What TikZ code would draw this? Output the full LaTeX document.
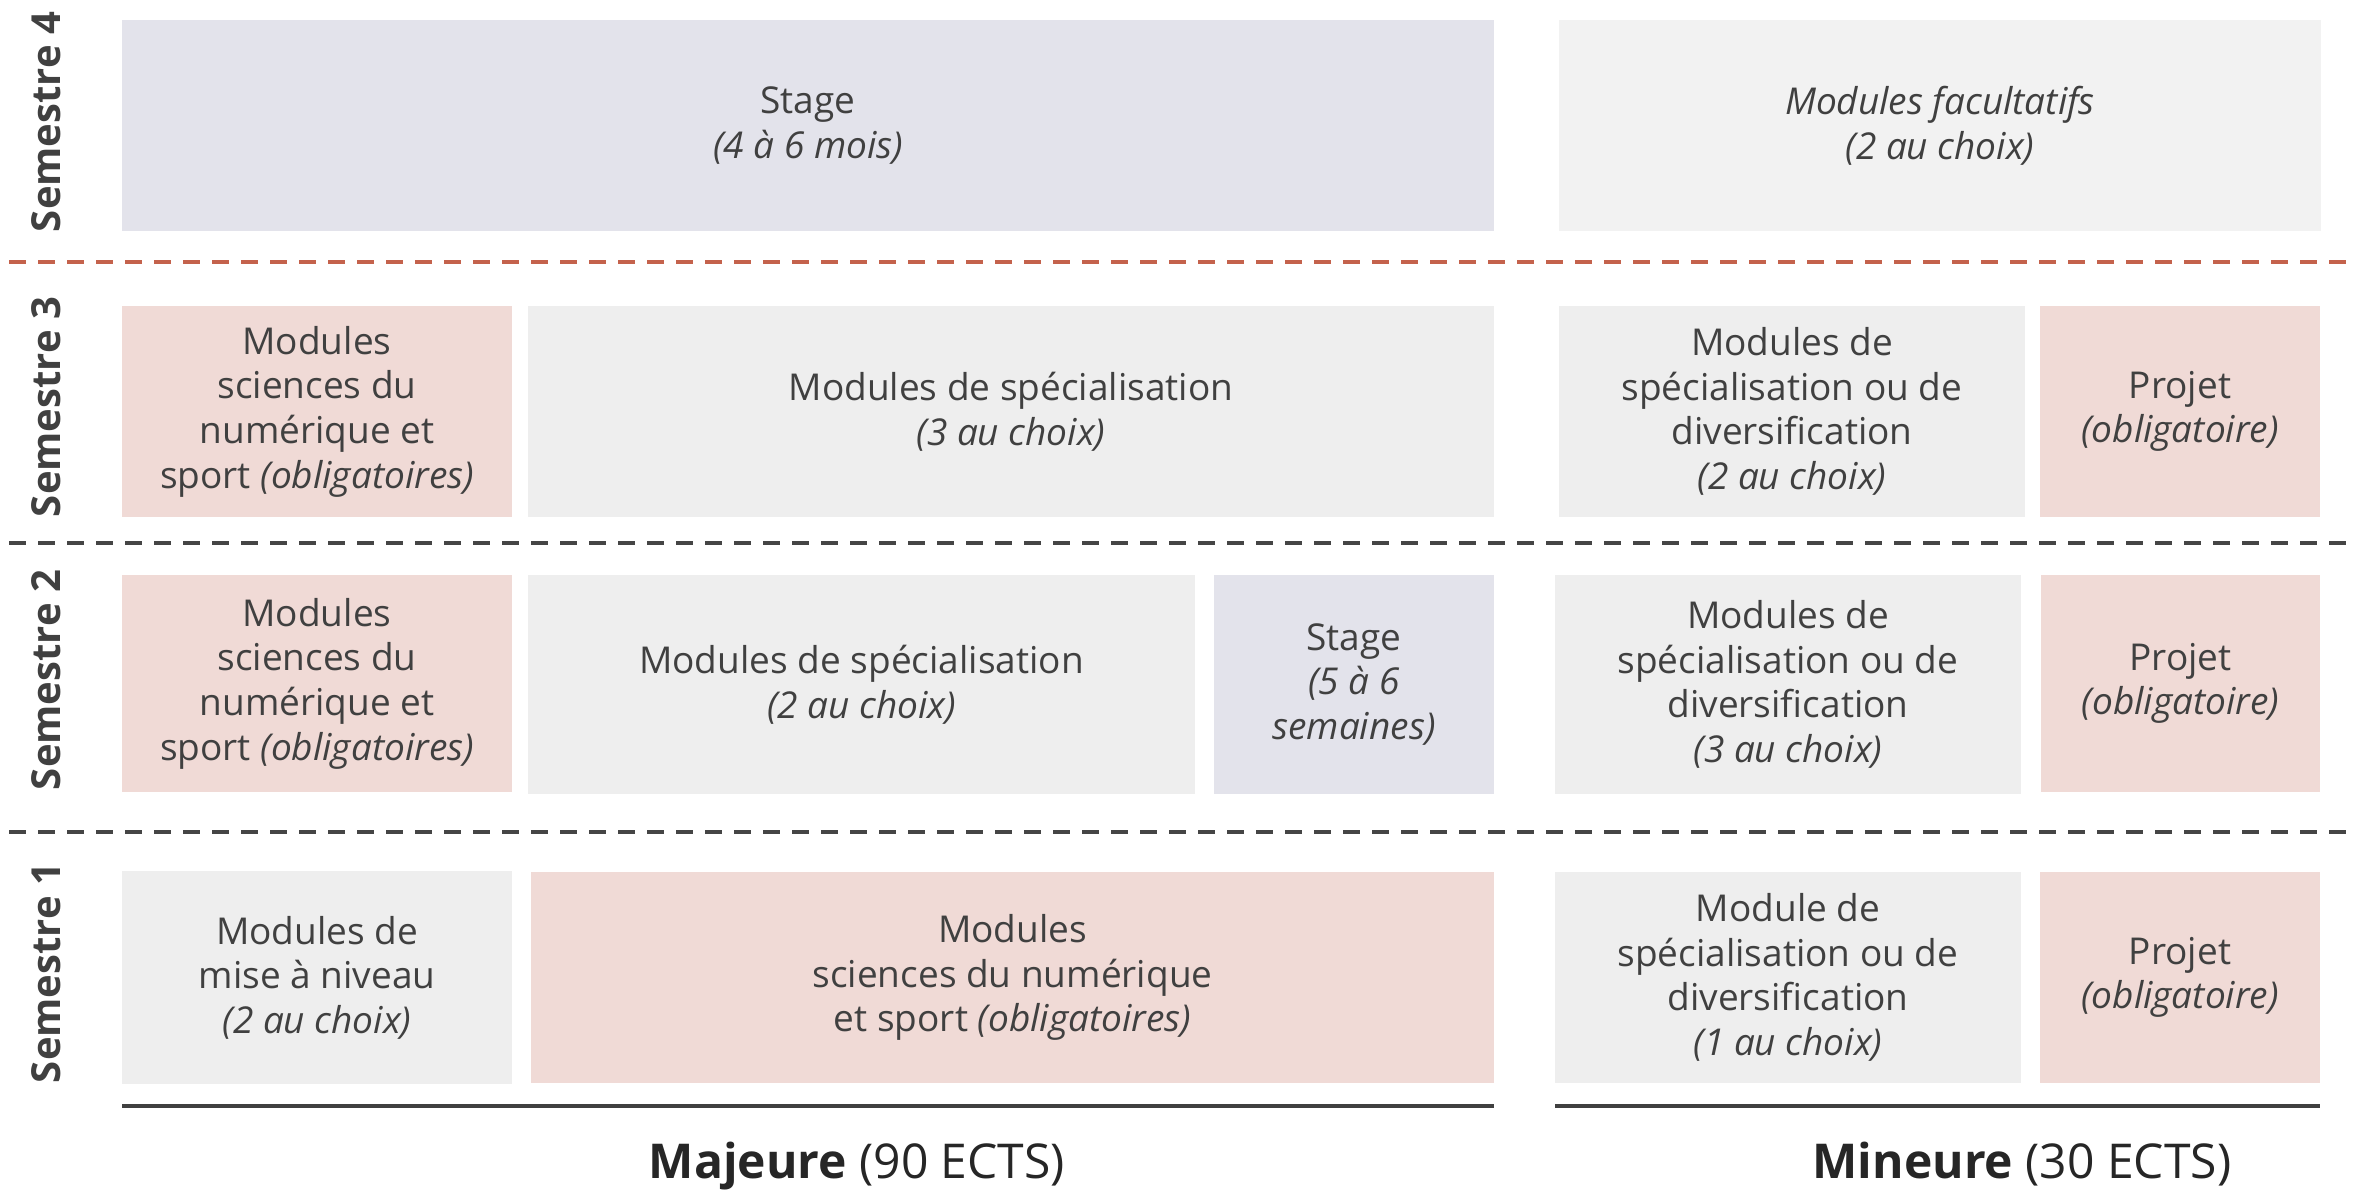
\documentclass[tikz,border=0pt]{standalone}
\usepackage{fontspec}
\setmainfont{Open Sans}
\definecolor{pinkc}{HTML}{F0DAD6}
\definecolor{grayc}{HTML}{EEEEEE}
\definecolor{lightc}{HTML}{F2F2F2}
\definecolor{lavc}{HTML}{E3E3EB}
\definecolor{txt}{HTML}{404040}
\definecolor{reddash}{HTML}{C4624C}
\definecolor{darkdash}{HTML}{454545}
\tikzset{
  cell/.style={inner sep=0pt, outer sep=0pt, align=center, text=txt,
    font=\fontsize{18.5}{22.3}\selectfont},
  pinkcell/.style={cell, fill=pinkc},
  graycell/.style={cell, fill=grayc},
  lightcell/.style={cell, fill=lightc},
  lavcell/.style={cell, fill=lavc},
  semlabel/.style={rotate=90, anchor=base, text=txt, inner sep=0pt,
    font=\fontsize{20}{24}\selectfont\bfseries},
  sepline/.style={line width=2pt, dash pattern=on 8.5pt off 6pt},
  baseline/.style={line width=2.25pt, draw=txt},
  ects/.style={anchor=base, inner sep=0pt, text=black!85,
    font=\fontsize{24}{28}\selectfont}
}
% name, style, x1, y1, x2, y2, text
\newcommand\cellnode[7]{%
  \pgfmathsetmacro\cw{(#5-#3)*0.5}%
  \pgfmathsetmacro\ch{(#6-#4)*0.5}%
  \pgfmathsetmacro\cx{(#3+#5)/2}%
  \pgfmathsetmacro\cy{(#4+#6)/2}%
  \node[#2, minimum width=\cw pt, minimum height=\ch pt] (#1) at (\cx,\cy) {#7};%
}
\begin{document}
\begin{tikzpicture}[x=0.5pt, y=-0.5pt]
\useasboundingbox (0,0) rectangle (2356,1190);
% Semester 4
\cellnode{s4stage}{lavcell}{122}{20}{1494}{231}{Stage\\\textit{(4 à 6 mois)}}
\cellnode{s4fac}{lightcell}{1559}{20}{2321}{231}{\textit{Modules facultatifs}\\\textit{(2 au choix)}}
% Semester 3
\cellnode{s3sci}{pinkcell}{122}{306}{512}{517}{Modules\\sciences du\\numérique et\\sport \textit{(obligatoires)}}
\cellnode{s3spe}{graycell}{528}{306}{1494}{517}{Modules de spécialisation\\\textit{(3 au choix)}}
\cellnode{s3min}{graycell}{1559}{306}{2025}{517}{Modules de\\spécialisation ou de\\diversification\\\textit{(2 au choix)}}
\cellnode{s3proj}{pinkcell}{2040}{306}{2320}{517}{Projet\\\textit{(obligatoire)}}
% Semester 2
\cellnode{s2sci}{pinkcell}{122}{575}{512}{792}{Modules\\sciences du\\numérique et\\sport \textit{(obligatoires)}}
\cellnode{s2spe}{graycell}{528}{575}{1195}{794}{Modules de spécialisation\\\textit{(2 au choix)}}
\cellnode{s2stage}{lavcell}{1214}{575}{1494}{794}{Stage\\\textit{(5 à 6}\\\textit{semaines)}}
\cellnode{s2min}{graycell}{1555}{575}{2021}{794}{Modules de\\spécialisation ou de\\diversification\\\textit{(3 au choix)}}
\cellnode{s2proj}{pinkcell}{2041}{575}{2320}{792}{Projet\\\textit{(obligatoire)}}
% Semester 1
\cellnode{s1niv}{graycell}{122}{871}{512}{1084}{Modules de\\mise à niveau\\\textit{(2 au choix)}}
\cellnode{s1sci}{pinkcell}{531}{872}{1494}{1083}{Modules\\sciences du numérique\\et sport \textit{(obligatoires)}}
\cellnode{s1min}{graycell}{1555}{872}{2021}{1083}{Module de\\spécialisation ou de\\diversification\\\textit{(1 au choix)}}
\cellnode{s1proj}{pinkcell}{2040}{872}{2320}{1083}{Projet\\\textit{(obligatoire)}}
% Semester labels
\node[semlabel] (l4) at (61,122) {Semestre 4};
\node[semlabel] (l3) at (61,407) {Semestre 3};
\node[semlabel] (l2) at (61,680) {Semestre 2};
\node[semlabel] (l1) at (61,973) {Semestre 1};
% separators
\coordinate (r4a) at (9,262); \coordinate (r4b) at (2356,262);
\coordinate (r3a) at (9,543); \coordinate (r3b) at (2356,543);
\coordinate (r2a) at (9,832); \coordinate (r2b) at (2356,832);
\draw[sepline, draw=reddash] (r4a) -- (r4b);
\draw[sepline, draw=darkdash] (r3a) -- (r3b);
\draw[sepline, draw=darkdash] (r2a) -- (r2b);
% bottom lines
\coordinate (ma) at (122,1106); \coordinate (mb) at (1494,1106);
\coordinate (na) at (1555,1106); \coordinate (nb) at (2320,1106);
\draw[baseline] (ma) -- (mb);
\draw[baseline] (na) -- (nb);
\node[ects] (maj) at (857,1178) {\textbf{Majeure} (90 ECTS)};
\node[ects] (min) at (2022,1178) {\textbf{Mineure} (30 ECTS)};
\end{tikzpicture}
\end{document}
